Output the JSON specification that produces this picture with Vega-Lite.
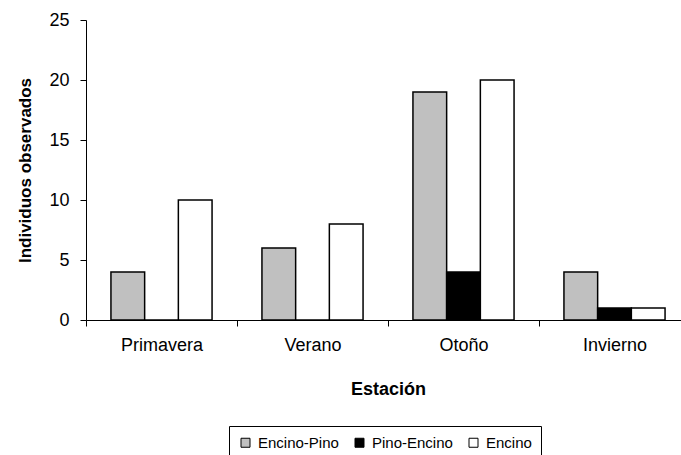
{
  "$schema": "https://vega.github.io/schema/vega-lite/v6.json",
  "autosize": "none",
  "width": 594,
  "height": 300,
  "padding": {"left": 86, "top": 20, "right": 1, "bottom": 135},
  "background": "white",
  "config": {
    "view": {"stroke": null},
    "font": "Liberation Sans",
    "axis": {
      "grid": false,
      "domainColor": "black",
      "tickColor": "black",
      "labelColor": "black",
      "titleColor": "black",
      "labelFont": "Liberation Sans",
      "titleFont": "Liberation Sans",
      "labelFontSize": 18,
      "titleFontSize": 17,
      "titleFontWeight": "bold"
    }
  },
  "data": {
    "values": [
      {"estacion": "Primavera", "tipo": "Encino-Pino", "individuos": 4},
      {"estacion": "Primavera", "tipo": "Pino-Encino", "individuos": 0},
      {"estacion": "Primavera", "tipo": "Encino", "individuos": 10},
      {"estacion": "Verano", "tipo": "Encino-Pino", "individuos": 6},
      {"estacion": "Verano", "tipo": "Pino-Encino", "individuos": 0},
      {"estacion": "Verano", "tipo": "Encino", "individuos": 8},
      {"estacion": "Otoño", "tipo": "Encino-Pino", "individuos": 19},
      {"estacion": "Otoño", "tipo": "Pino-Encino", "individuos": 4},
      {"estacion": "Otoño", "tipo": "Encino", "individuos": 20},
      {"estacion": "Invierno", "tipo": "Encino-Pino", "individuos": 4},
      {"estacion": "Invierno", "tipo": "Pino-Encino", "individuos": 1},
      {"estacion": "Invierno", "tipo": "Encino", "individuos": 1}
    ]
  },
  "mark": {"type": "bar", "stroke": "black", "strokeWidth": 1.5},
  "encoding": {
    "x": {
      "field": "estacion",
      "type": "nominal",
      "sort": ["Primavera", "Verano", "Otoño", "Invierno"],
      "scale": {"range": [0, 604], "paddingInner": 0, "paddingOuter": 0},
      "axis": {
        "title": "Estación",
        "titleFontSize": 18,
        "labelAngle": 0,
        "tickBand": "extent",
        "tickSize": 6,
        "labelPadding": 10,
        "titlePadding": 26
      }
    },
    "xOffset": {
      "field": "tipo",
      "type": "nominal",
      "sort": ["Encino-Pino", "Pino-Encino", "Encino"],
      "scale": {"paddingInner": 0, "paddingOuter": 0.74}
    },
    "y": {
      "field": "individuos",
      "type": "quantitative",
      "scale": {"domain": [0, 25], "nice": false},
      "axis": {
        "title": "Individuos observados",
        "values": [0, 5, 10, 15, 20, 25],
        "tickSize": 6,
        "labelPadding": 11,
        "titlePadding": 14
      }
    },
    "fill": {
      "field": "tipo",
      "type": "nominal",
      "sort": ["Encino-Pino", "Pino-Encino", "Encino"],
      "scale": {
        "domain": ["Encino-Pino", "Pino-Encino", "Encino"],
        "range": ["#C0C0C0", "#000000", "#FFFFFF"]
      },
      "legend": {
        "title": null,
        "orient": "none",
        "legendX": 143,
        "legendY": 406,
        "direction": "horizontal",
        "symbolType": "square",
        "symbolSize": 81,
        "symbolStrokeColor": "black",
        "symbolStrokeWidth": 1,
        "labelFont": "Liberation Sans",
        "labelFontSize": 15,
        "labelColor": "black",
        "labelOffset": 5,
        "columnPadding": 13,
        "strokeColor": "black",
        "padding": 9
      }
    }
  }
}
